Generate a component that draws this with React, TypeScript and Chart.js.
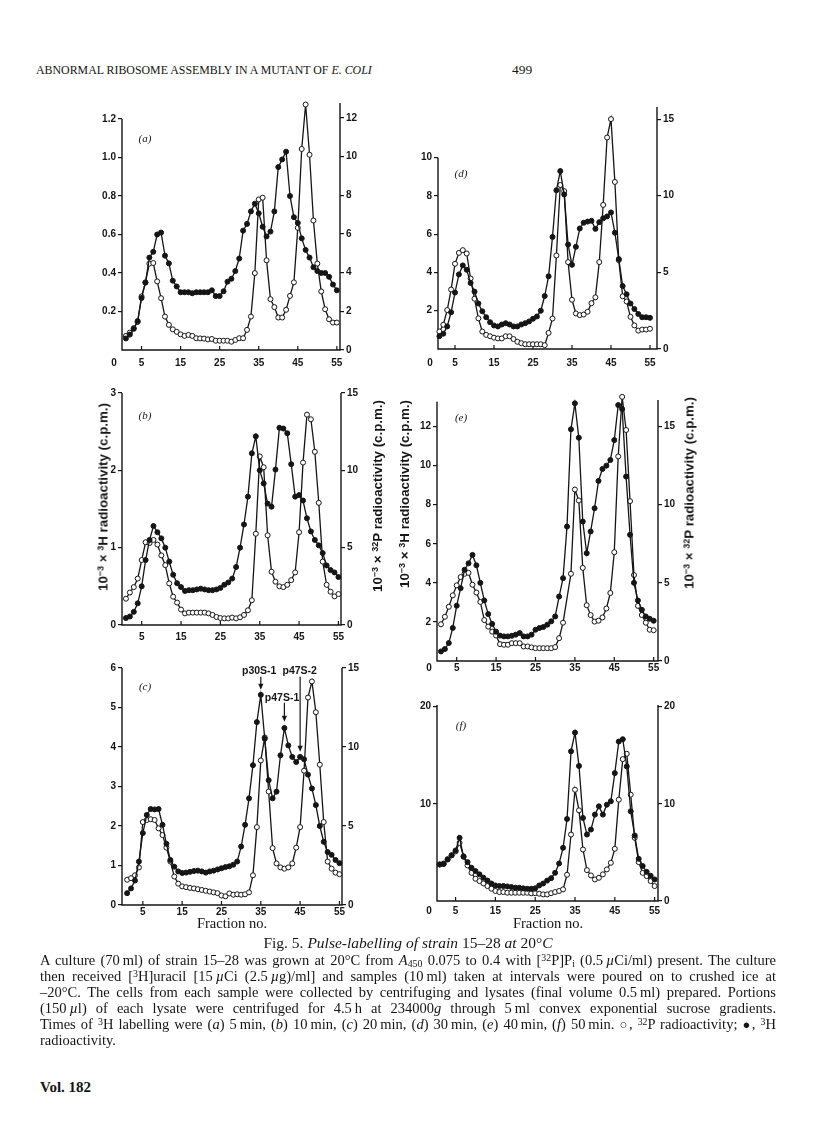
import React, { useEffect, useRef } from 'react';
import { Chart, registerables } from 'chart.js';

Chart.register(...registerables);

const INK = '#151515';
const SANS = '"Liberation Sans", Arial, Helvetica, sans-serif';
const SERIF = '"Liberation Serif", "Times New Roman", serif';

// ---- Fraction axis ----
const FRACTION_TICKS = [5, 15, 25, 35, 45, 55];
const FRACTION_TICK_LABELS = ['5', '15', '25', '35', '45', '55'];

// ---- Data: fractions 1..55 ; ● = 3H (left axis), ○ = 32P (right axis) ----
const H3_A = [0.06, 0.08, 0.11, 0.15, 0.27, 0.35, 0.48, 0.51, 0.6, 0.61, 0.49, 0.45, 0.36, 0.33, 0.3, 0.3, 0.3, 0.295, 0.3, 0.3, 0.3, 0.3, 0.31, 0.28, 0.28, 0.305, 0.355, 0.37, 0.41, 0.475, 0.62, 0.655, 0.72, 0.76, 0.71, 0.64, 0.59, 0.615, 0.72, 0.95, 0.99, 1.03, 0.8, 0.69, 0.66, 0.58, 0.52, 0.48, 0.43, 0.41, 0.4, 0.4, 0.38, 0.34, 0.31];
const P32_A = [0.73, 0.9, 1.13, 1.45, 2.77, 3.5, 4.47, 4.5, 3.55, 2.68, 1.73, 1.3, 1.07, 0.94, 0.81, 0.73, 0.78, 0.73, 0.61, 0.6, 0.59, 0.55, 0.57, 0.48, 0.48, 0.48, 0.48, 0.43, 0.52, 0.61, 0.61, 1.04, 1.73, 3.98, 7.79, 7.88, 4.64, 2.63, 2.22, 1.68, 1.68, 2.08, 2.8, 3.5, 6.32, 10.4, 12.7, 10.1, 6.7, 4.47, 3.03, 2.11, 1.59, 1.42, 1.42];

const H3_B = [0.09, 0.11, 0.17, 0.28, 0.5, 0.84, 1.1, 1.28, 1.2, 1.12, 1.0, 0.82, 0.65, 0.54, 0.49, 0.44, 0.45, 0.45, 0.46, 0.47, 0.46, 0.45, 0.45, 0.46, 0.48, 0.52, 0.55, 0.6, 0.75, 1.0, 1.3, 1.66, 2.22, 2.44, 2.0, 1.83, 1.57, 1.53, 2.01, 2.55, 2.54, 2.48, 2.08, 1.66, 1.68, 1.61, 1.38, 1.21, 1.1, 1.03, 0.93, 0.77, 0.71, 0.68, 0.62];
const P32_B = [1.7, 2.1, 2.45, 3.0, 4.2, 5.35, 5.3, 5.5, 5.2, 4.5, 3.87, 2.69, 1.83, 1.45, 1.0, 0.75, 0.8, 0.8, 0.8, 0.8, 0.8, 0.75, 0.65, 0.52, 0.45, 0.43, 0.43, 0.48, 0.43, 0.5, 0.65, 0.95, 1.6, 5.9, 10.9, 10.2, 5.8, 3.44, 2.8, 2.5, 2.45, 2.6, 2.9, 3.4, 6.0, 10.5, 13.6, 13.3, 11.2, 7.9, 4.1, 2.6, 2.15, 1.85, 2.0];

const H3_C = [0.3, 0.42, 0.62, 1.1, 1.82, 2.28, 2.43, 2.42, 2.43, 2.03, 1.55, 1.14, 0.97, 0.85, 0.81, 0.82, 0.84, 0.86, 0.87, 0.85, 0.82, 0.85, 0.87, 0.9, 0.93, 0.96, 0.98, 1.02, 1.1, 1.48, 2.03, 2.7, 3.54, 4.63, 5.32, 4.21, 3.16, 2.7, 2.87, 3.79, 4.48, 4.04, 3.75, 3.62, 3.75, 3.69, 3.3, 2.95, 2.53, 2.0, 1.6, 1.34, 1.27, 1.14, 1.06];
const P32_C = [1.6, 1.7, 1.88, 2.38, 5.25, 5.38, 5.43, 5.38, 4.85, 4.43, 3.63, 2.75, 1.8, 1.35, 1.18, 1.13, 1.08, 1.05, 1.0, 0.95, 0.9, 0.85, 0.8, 0.75, 0.6, 0.55, 0.73, 0.65, 0.68, 0.65, 0.68, 0.8, 1.88, 4.93, 9.15, 10.6, 7.18, 3.6, 2.63, 2.38, 2.3, 2.38, 2.63, 3.63, 4.93, 8.5, 13.13, 14.15, 12.2, 8.88, 5.25, 2.75, 2.3, 2.05, 1.95];

const H3_D = [0.67, 0.8, 1.18, 1.92, 2.95, 3.9, 4.37, 4.14, 3.45, 3.0, 2.38, 1.97, 1.66, 1.4, 1.23, 1.18, 1.28, 1.35, 1.28, 1.18, 1.18, 1.28, 1.35, 1.44, 1.58, 1.7, 2.0, 2.77, 3.8, 5.86, 8.3, 9.3, 8.08, 5.46, 4.4, 5.34, 6.3, 6.6, 6.66, 6.7, 6.28, 6.63, 6.83, 6.93, 7.14, 6.08, 4.7, 3.29, 2.86, 2.38, 2.09, 1.83, 1.66, 1.66, 1.63];
const P32_D = [1.14, 1.58, 2.54, 3.88, 5.56, 6.27, 6.45, 6.23, 4.6, 3.28, 2.0, 1.14, 0.92, 0.83, 0.74, 0.69, 0.69, 0.83, 0.83, 0.65, 0.47, 0.38, 0.31, 0.31, 0.31, 0.31, 0.31, 0.25, 1.05, 1.99, 6.1, 10.7, 10.3, 5.67, 3.21, 2.32, 2.21, 2.25, 2.43, 2.99, 3.37, 5.67, 9.4, 13.8, 15.0, 10.9, 5.8, 3.44, 3.1, 2.1, 1.54, 1.2, 1.27, 1.27, 1.32];

const H3_E = [0.49, 0.61, 0.92, 1.69, 2.83, 3.73, 4.67, 5.0, 5.43, 4.9, 4.0, 3.1, 2.4, 1.9, 1.5, 1.3, 1.26, 1.26, 1.29, 1.35, 1.43, 1.26, 1.26, 1.35, 1.6, 1.69, 1.74, 1.86, 2.03, 2.28, 3.3, 4.24, 6.88, 11.86, 13.19, 11.43, 7.14, 5.52, 6.63, 7.82, 9.22, 9.83, 10.0, 10.29, 11.31, 13.1, 12.9, 9.44, 6.46, 4.0, 3.1, 2.62, 2.28, 2.16, 2.06];
const P32_E = [2.35, 2.83, 3.47, 4.2, 4.84, 5.37, 5.58, 5.64, 4.88, 4.38, 3.78, 2.62, 2.2, 1.88, 1.63, 1.08, 1.04, 1.04, 1.14, 1.14, 1.14, 0.93, 0.93, 0.87, 0.82, 0.82, 0.82, 0.82, 0.82, 0.89, 1.46, 2.45, null, 5.58, 10.97, 10.27, 5.96, 3.57, 2.94, 2.52, 2.58, 2.79, 3.36, 4.35, 6.96, 13.09, 16.9, 14.78, 10.23, 5.5, 3.53, 2.94, 2.45, 2.0, 1.97];

const H3_F = [3.76, 3.8, 4.3, 4.7, 5.2, 6.5, 4.55, 4.0, 3.42, 3.08, 2.74, 2.4, 2.1, 1.8, 1.6, 1.54, 1.54, 1.5, 1.44, 1.37, 1.37, 1.3, 1.26, 1.26, 1.3, 1.6, 1.8, 2.1, 2.35, 2.9, 3.86, 5.47, 8.44, 15.4, 17.33, 13.9, 8.55, 6.84, 7.35, 8.89, 9.74, 8.89, 9.91, 10.26, 13.16, 16.41, 16.65, 13.85, 9.23, 6.74, 4.34, 3.6, 3.0, 2.6, 2.22];
const P32_F = [3.76, 3.86, 4.27, 4.7, 5.1, 5.98, 4.6, 3.66, 2.9, 2.29, 2.05, 1.81, 1.54, 1.26, 1.03, 0.92, 0.92, 0.85, 0.85, 0.85, 0.85, 0.85, 0.85, 0.79, 0.8, 0.75, 0.68, 0.68, 0.8, 0.92, 1.03, 1.2, 2.7, 6.84, 11.45, 9.33, 5.3, 3.18, 2.63, 2.22, 2.39, 2.74, 3.25, 3.93, 5.37, 10.43, 14.6, 15.15, 10.94, 6.5, 4.0, 2.9, 2.56, 2.05, 1.54];

// ---- Axis ticks ----
const LEFT_TICKS_A = [0.2, 0.4, 0.6, 0.8, 1.0, 1.2];
const LEFT_LABELS_A = ['0.2', '0.4', '0.6', '0.8', '1.0', '1.2'];
const RIGHT_TICKS_A = [0, 2, 4, 6, 8, 10, 12];
const LEFT_TICKS_B = [0, 1, 2, 3];
const RIGHT_TICKS_B = [0, 5, 10, 15];
const LEFT_TICKS_C = [0, 1, 2, 3, 4, 5, 6];
const RIGHT_TICKS_C = [0, 5, 10, 15];
const LEFT_TICKS_D = [2, 4, 6, 8, 10];
const RIGHT_TICKS_D = [0, 5, 10, 15];
const LEFT_TICKS_E = [2, 4, 6, 8, 10, 12];
const RIGHT_TICKS_E = [0, 5, 10, 15];
const LEFT_TICKS_F = [10, 20];
const RIGHT_TICKS_F = [0, 10, 20];

// ---- Peak annotations in panel (c) ----
const ARROWS_C = [
  { text: 'p30S-1', fraction: 35, tail: 5.78, tip: 5.45, textFraction: 34.6, textValue: 5.92 },
  { text: 'p47S-1', fraction: 41, tail: 5.12, tip: 4.64, textFraction: 40.4, textValue: 5.25 },
  { text: 'p47S-2', fraction: 45, tail: 5.78, tip: 3.88, textFraction: 44.9, textValue: 5.92 },
];

type Arrow = { text: string; fraction: number; tail: number; tip: number; textFraction: number; textValue: number };
type PanelSpec = {
  key: string;
  letter: string;
  letterAt: [number, number];
  h3: (number | null)[];
  p32: (number | null)[];
  leftTicks: number[];
  leftLabels: string[];
  rightTicks: number[];
  leftMax: number;
  rightMax: number;
  leftLineTop: number;
  rightLineTop: number;
  xMin: number;
  xMax: number;
  box: { left: number; right: number; top: number; bottom: number };
  labelPad: number;
  xZero: boolean;
  arrows?: Arrow[];
};

const str = (a: number[]) => a.map((v) => String(v));

const PANELS: PanelSpec[] = [
  { key: 'a', letter: '(a)', letterAt: [145, 139], h3: H3_A, p32: P32_A, leftTicks: LEFT_TICKS_A, leftLabels: LEFT_LABELS_A, rightTicks: RIGHT_TICKS_A, leftMax: 1.283, rightMax: 12.78, leftLineTop: 1.2, rightLineTop: 12.78, xMin: 0, xMax: 55.8, box: { left: 122, right: 340, top: 103, bottom: 350 }, labelPad: 7, xZero: true },
  { key: 'b', letter: '(b)', letterAt: [145, 416], h3: H3_B, p32: P32_B, leftTicks: LEFT_TICKS_B, leftLabels: str(LEFT_TICKS_B), rightTicks: RIGHT_TICKS_B, leftMax: 3, rightMax: 15, leftLineTop: 3, rightLineTop: 15, xMin: 0, xMax: 55.65, box: { left: 122, right: 341, top: 393, bottom: 625 }, labelPad: 6, xZero: false },
  { key: 'c', letter: '(c)', letterAt: [145, 687], h3: H3_C, p32: P32_C, leftTicks: LEFT_TICKS_C, leftLabels: str(LEFT_TICKS_C), rightTicks: RIGHT_TICKS_C, leftMax: 6, rightMax: 15, leftLineTop: 6, rightLineTop: 15, xMin: -0.3, xMax: 55.65, box: { left: 122, right: 342, top: 668, bottom: 905 }, labelPad: 1, xZero: false, arrows: ARROWS_C },
  { key: 'd', letter: '(d)', letterAt: [461, 174], h3: H3_D, p32: P32_D, leftTicks: LEFT_TICKS_D, leftLabels: str(LEFT_TICKS_D), rightTicks: RIGHT_TICKS_D, leftMax: 12.65, rightMax: 15.79, leftLineTop: 10, rightLineTop: 15.79, xMin: 0.64, xMax: 56.8, box: { left: 438, right: 657, top: 107, bottom: 349 }, labelPad: 8, xZero: true },
  { key: 'e', letter: '(e)', letterAt: [461, 418], h3: H3_E, p32: P32_E, leftTicks: LEFT_TICKS_E, leftLabels: str(LEFT_TICKS_E), rightTicks: RIGHT_TICKS_E, leftMax: 13.36, rightMax: 16.7, leftLineTop: 13.27, rightLineTop: 16.7, xMin: 0, xMax: 56.1, box: { left: 437, right: 658, top: 400, bottom: 661 }, labelPad: 1, xZero: true },
  { key: 'f', letter: '(f)', letterAt: [461, 726], h3: H3_F, p32: P32_F, leftTicks: LEFT_TICKS_F, leftLabels: str(LEFT_TICKS_F), rightTicks: RIGHT_TICKS_F, leftMax: 20.17, rightMax: 20.17, leftLineTop: 20.17, rightLineTop: 20.17, xMin: 0.33, xMax: 55.85, box: { left: 437, right: 658, top: 705, bottom: 901 }, labelPad: 4, xZero: true },
];

const PAD_L = 36, PAD_R = 36, PAD_T = 16, PAD_B = 26;
const TICK_FONT = { family: SANS, size: 10, weight: 'bold' as const, lineHeight: 1.2 };
const TICK_FONT_CSS = `bold 10px ${SANS}`;

function Panel({ spec }: { spec: PanelSpec }) {
  const ref = useRef<HTMLCanvasElement | null>(null);
  const areaW = spec.box.right - spec.box.left;
  const areaH = spec.box.bottom - spec.box.top;
  const cLeft = spec.box.left - PAD_L;
  const cTop = spec.box.top - PAD_T;
  const W = areaW + PAD_L + PAD_R;
  const H = areaH + PAD_T + PAD_B;

  useEffect(() => {
    const canvas = ref.current;
    if (!canvas) return;
    const toPts = (arr: (number | null)[]) => arr.map((v, i) => ({ x: i + 1, y: v }));

    const decor = {
      id: 'decor_' + spec.key,
      beforeDatasetsDraw(chart: any) {
        const { ctx, chartArea, scales } = chart;
        const { left, right, bottom } = chartArea;
        ctx.save();
        ctx.strokeStyle = INK;
        ctx.lineWidth = 1.4;
        ctx.beginPath();
        ctx.moveTo(left, scales.yL.getPixelForValue(spec.leftLineTop));
        ctx.lineTo(left, bottom);
        ctx.lineTo(right, bottom);
        ctx.lineTo(right, scales.yR.getPixelForValue(spec.rightLineTop));
        ctx.stroke();
        ctx.lineWidth = 1.2;
        ctx.beginPath();
        FRACTION_TICKS.forEach((v) => {
          const px = scales.x.getPixelForValue(v);
          ctx.moveTo(px, bottom);
          ctx.lineTo(px, bottom - 4);
        });
        ctx.stroke();
        ctx.restore();
      },
      afterDraw(chart: any) {
        const { ctx, chartArea, scales } = chart;
        ctx.save();
        ctx.fillStyle = INK;
        ctx.strokeStyle = INK;
        if (spec.xZero) {
          ctx.font = TICK_FONT_CSS;
          ctx.textAlign = 'center';
          ctx.textBaseline = 'middle';
          ctx.fillText('0', chartArea.left - 8, chartArea.bottom + spec.labelPad + 6);
        }
        ctx.font = `italic 11px ${SERIF}`;
        ctx.textAlign = 'center';
        ctx.textBaseline = 'middle';
        ctx.fillText(spec.letter, spec.letterAt[0] - cLeft, spec.letterAt[1] - cTop);
        (spec.arrows || []).forEach((a) => {
          const ax = scales.x.getPixelForValue(a.fraction);
          const y1 = scales.yL.getPixelForValue(a.tail);
          const y2 = scales.yL.getPixelForValue(a.tip);
          ctx.lineWidth = 1.2;
          ctx.beginPath();
          ctx.moveTo(ax, y1);
          ctx.lineTo(ax, y2 - 4);
          ctx.stroke();
          ctx.beginPath();
          ctx.moveTo(ax - 2.6, y2 - 6);
          ctx.lineTo(ax + 2.6, y2 - 6);
          ctx.lineTo(ax, y2);
          ctx.closePath();
          ctx.fill();
          ctx.font = `bold 10.5px ${SANS}`;
          ctx.textAlign = 'center';
          ctx.textBaseline = 'middle';
          ctx.fillText(a.text, scales.x.getPixelForValue(a.textFraction), scales.yL.getPixelForValue(a.textValue));
        });
        ctx.restore();
      },
    };

    const yScale = (pos: 'left' | 'right', max: number, ticks: number[], labels: string[]) => ({
      type: 'linear' as const,
      position: pos,
      min: 0,
      max,
      grid: { display: true, drawOnChartArea: false, drawTicks: true, tickLength: 4, color: INK, lineWidth: 1.2 },
      border: { display: false },
      afterBuildTicks: (s: any) => {
        s.ticks = ticks.map((v) => ({ value: v }));
      },
      afterFit: (s: any) => {
        s.width = pos === 'left' ? PAD_L : PAD_R;
      },
      ticks: { padding: 2, color: INK, font: TICK_FONT, autoSkip: false, callback: (_v: any, i: number) => labels[i] },
    });

    const chart = new Chart(canvas, {
      type: 'line',
      data: {
        datasets: [
          {
            label: '3H',
            data: toPts(spec.h3) as any,
            yAxisID: 'yL',
            borderColor: INK,
            borderWidth: 1.3,
            pointRadius: 2.5,
            pointBackgroundColor: INK,
            pointBorderColor: INK,
            pointBorderWidth: 1,
            tension: 0,
            spanGaps: true,
            clip: false as any,
          },
          {
            label: '32P',
            data: toPts(spec.p32) as any,
            yAxisID: 'yR',
            borderColor: INK,
            borderWidth: 1.3,
            pointRadius: 2.5,
            pointBackgroundColor: '#ffffff',
            pointBorderColor: INK,
            pointBorderWidth: 1,
            tension: 0,
            spanGaps: true,
            clip: false as any,
          },
        ],
      },
      options: {
        animation: false,
        responsive: false,
        devicePixelRatio: 1,
        events: [],
        layout: { padding: { top: PAD_T, left: 0, right: 0, bottom: 0 } },
        plugins: { legend: { display: false }, tooltip: { enabled: false } },
        scales: {
          x: {
            type: 'linear',
            position: 'bottom',
            min: spec.xMin,
            max: spec.xMax,
            grid: { display: false, drawTicks: false, tickLength: 0 },
            border: { display: false },
            afterBuildTicks: (s: any) => {
              s.ticks = FRACTION_TICKS.map((v) => ({ value: v }));
            },
            afterFit: (s: any) => {
              s.height = PAD_B;
            },
            ticks: { padding: spec.labelPad, color: INK, font: TICK_FONT, autoSkip: false, maxRotation: 0, callback: (_v: any, i: number) => FRACTION_TICK_LABELS[i] },
          },
          yL: yScale('left', spec.leftMax, spec.leftTicks, spec.leftLabels),
          yR: yScale('right', spec.rightMax, spec.rightTicks, str(spec.rightTicks)),
        } as any,
      },
      plugins: [decor as any],
    });
    return () => chart.destroy();
  }, []);

  return <canvas ref={ref} width={W} height={H} style={{ position: 'absolute', left: cLeft, top: cTop, width: W, height: H }} />;
}

const sup = (t: string) => <sup style={{ fontSize: '0.68em', lineHeight: 0, verticalAlign: '0.42em' }}>{t}</sup>;
const sub = (t: string) => <sub style={{ fontSize: '0.68em', lineHeight: 0, verticalAlign: '-0.2em' }}>{t}</sub>;

function VTitle({ cx, cy, isotope }: { cx: number; cy: number; isotope: string }) {
  return (
    <div
      style={{
        position: 'absolute',
        left: cx,
        top: cy,
        transform: 'translate(-50%, -50%) rotate(-90deg)',
        whiteSpace: 'nowrap',
        fontFamily: SANS,
        fontSize: 13.3,
        fontWeight: 'bold',
        lineHeight: '15px',
        color: INK,
      }}
    >
      10{sup('−3')} × {sup(isotope)}
      {isotope === '3' ? 'H' : 'P'} radioactivity (c.p.m.)
    </div>
  );
}

const lineStyle = (y: number): React.CSSProperties => ({
  position: 'absolute',
  left: 40,
  width: 736,
  top: y - 8,
  height: 16,
  lineHeight: '16px',
  fontSize: 14.5,
  textAlign: 'justify',
  textAlignLast: 'justify' as any,
  whiteSpace: 'normal',
});

export default function App() {
  const T = '\u2009';
  return (
    <div style={{ position: 'absolute', left: 0, top: 0, width: 816, height: 1136, background: '#ffffff', color: INK, fontFamily: SERIF }}>
      <div style={{ position: 'absolute', left: 36, top: 62, fontSize: 13.5, lineHeight: '16px', whiteSpace: 'nowrap', transform: 'scaleX(0.88)', transformOrigin: 'left center' }}>
        ABNORMAL RIBOSOME ASSEMBLY IN A MUTANT OF <i>E. COLI</i>
      </div>
      <div style={{ position: 'absolute', left: 512, top: 62, fontSize: 13.5, lineHeight: '16px' }}>499</div>

      {PANELS.map((p) => (
        <Panel key={p.key} spec={p} />
      ))}

      <VTitle cx={103} cy={497} isotope="3" />
      <VTitle cx={377} cy={496} isotope="32" />
      <VTitle cx={404} cy={494} isotope="3" />
      <VTitle cx={689} cy={493} isotope="32" />

      <div style={{ position: 'absolute', left: 232 - 60, width: 120, top: 915, textAlign: 'center', fontSize: 14.5, lineHeight: '16px' }}>Fraction no.</div>
      <div style={{ position: 'absolute', left: 548 - 60, width: 120, top: 915, textAlign: 'center', fontSize: 14.5, lineHeight: '16px' }}>Fraction no.</div>

      <div style={{ position: 'absolute', left: 0, width: 816, top: 935, textAlign: 'center', fontSize: 15.5, lineHeight: '16px' }}>
        Fig. 5. <i>Pulse-labelling of strain</i> 15–28 <i>at</i> 20°<i>C</i>
      </div>
      <div style={lineStyle(960)}>
        A culture (70{T}ml) of strain 15–28 was grown at 20°C from <i>A</i>{sub('450')} 0.075 to 0.4 with [{sup('32')}P]P{sub('i')} (0.5{T}<i>µ</i>Ci/ml) present. The culture
      </div>
      <div style={lineStyle(976)}>
        then received [{sup('3')}H]uracil [15{T}<i>µ</i>Ci (2.5{T}<i>µ</i>g)/ml] and samples (10{T}ml) taken at intervals were poured on to crushed ice at
      </div>
      <div style={lineStyle(992)}>
        –20°C. The cells from each sample were collected by centrifuging and lysates (final volume 0.5{T}ml) prepared. Portions
      </div>
      <div style={lineStyle(1008)}>
        (150{T}<i>µ</i>l) of each lysate were centrifuged for 4.5{T}h at 234000<i>g</i> through 5{T}ml convex exponential sucrose gradients.
      </div>
      <div style={lineStyle(1024)}>
        Times of {sup('3')}H labelling were (<i>a</i>) 5{T}min, (<i>b</i>) 10{T}min, (<i>c</i>) 20{T}min, (<i>d</i>) 30{T}min, (<i>e</i>) 40{T}min, (<i>f</i>) 50{T}min. <span style={{ fontSize: '0.9em' }}>○</span>, {sup('32')}P radioactivity; <span style={{ fontSize: '0.9em' }}>●</span>, {sup('3')}H
      </div>
      <div style={{ ...lineStyle(1040), textAlignLast: 'left' as any }}>radioactivity.</div>

      <div style={{ position: 'absolute', left: 40, top: 1078, fontSize: 15, fontWeight: 'bold', lineHeight: '18px' }}>Vol. 182</div>
    </div>
  );
}
